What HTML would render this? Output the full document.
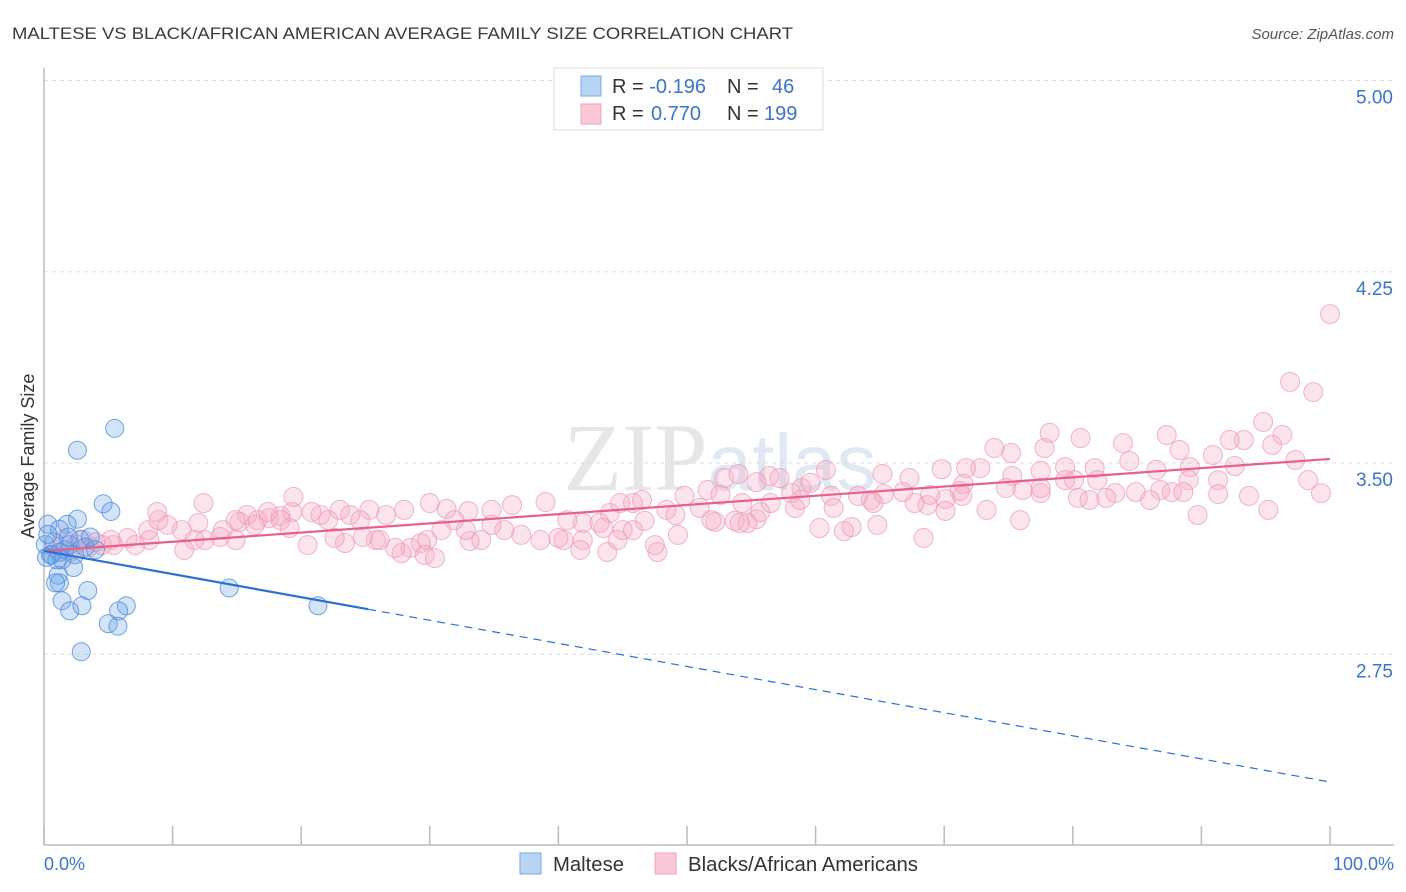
<!DOCTYPE html>
<html><head><meta charset="utf-8"><style>
body{margin:0;background:#fff;font-family:"Liberation Sans",sans-serif;}
#wrap{position:relative;width:1406px;height:892px;overflow:hidden;}
</style></head><body>
<div id="wrap">
<svg id="chart" width="1406" height="892" xmlns="http://www.w3.org/2000/svg">
<text x="12" y="39" font-size="17" fill="#3a3a3a" textLength="781" lengthAdjust="spacingAndGlyphs">MALTESE VS BLACK/AFRICAN AMERICAN AVERAGE FAMILY SIZE CORRELATION CHART</text>
<text x="1394" y="39" font-size="15" fill="#555" font-style="italic" text-anchor="end">Source: ZipAtlas.com</text>
<text x="720" y="490" font-size="96" fill="#e6e6e6" text-anchor="middle" font-family="Liberation Serif, serif">ZIP<tspan fill="#dfe8f3" font-family="Liberation Sans, sans-serif" font-size="80">atlas</tspan></text>
<g id="grid"></g>
<g id="axes"></g>
<g id="marks"></g>
<text transform="translate(34,456) rotate(-90)" font-size="18" fill="#333" text-anchor="middle">Average Family Size</text>
<text x="44" y="870" font-size="18" fill="#3b73d1">0.0%</text>
<text x="1394" y="870" font-size="18" fill="#3b73d1" text-anchor="end">100.0%</text>
<g>
<rect x="554" y="68" width="269" height="62" fill="#fff" stroke="#ddd"/>
<rect x="581" y="76" width="20" height="20" fill="#b8d4f5" stroke="#7aa8e6"/>
<rect x="581" y="104" width="20" height="20" fill="#fbc8d8" stroke="#f0a0b8"/>
<text x="612" y="93" font-size="20" fill="#333">R = <tspan fill="#3b73d1">-0.196</tspan><tspan x="727">N = </tspan><tspan fill="#3b73d1" x="772">46</tspan></text>
<text x="612" y="120" font-size="20" fill="#333">R = <tspan fill="#3b73d1" x="651">0.770</tspan><tspan x="727">N = </tspan><tspan fill="#3b73d1" x="764">199</tspan></text>
</g>
<g>
<rect x="520" y="853" width="21" height="21" fill="#b8d4f5" stroke="#7aa8e6"/>
<text x="553" y="871" font-size="20" fill="#333" textLength="71" lengthAdjust="spacingAndGlyphs">Maltese</text>
<rect x="655" y="853" width="21" height="21" fill="#fbc8d8" stroke="#f0a0b8"/>
<text x="688" y="871" font-size="20" fill="#333" textLength="230" lengthAdjust="spacingAndGlyphs">Blacks/African Americans</text>
</g>
</svg>
</div>
<script>
const yTicks=[5.00,4.25,3.50,2.75];
const yTickLabels=["5.00","4.25","3.50","2.75"];
const xTicks=[0,10,20,30,40,50,60,70,80,90,100];
const blueX=[5.5,2.6,4.6,5.2,2.6,1.8,0.3,1.2,0.1,0.6,2.0,2.4,1.4,2.3,1.1,1.2,0.9,3.4,1.4,2.0,2.95,6.4,5.8,5.0,5.75,2.9,14.4,21.3,0.8,1.6,3.2,4.0,0.5,1.2,2.8,3.6,0.3,1.9,0.2,1.0];
const blueY=[3.636,3.55,3.34,3.31,3.28,3.26,3.26,3.24,3.18,3.14,3.18,3.14,3.12,3.09,3.06,3.03,3.03,3.0,2.96,2.92,2.94,2.94,2.92,2.87,2.86,2.76,3.01,2.94,3.19,3.16,3.17,3.16,3.14,3.15,3.2,3.21,3.22,3.21,3.13,3.12];
const pinkX=[100,96.9,98.7,94.8,93.3,96.3,95.5,92.2,87.3,80.6,78.2,77.8,83.9,90.9,88.3,97.3,89.1,92.6,86.5,84.4,81.7,79.4,75.2,73.9,72.8,71.7,69.8,60.8,65.2,56.4,52.9,57.2,67.3,75.3,77.5,80.1,81.9,83.3,84.9,86.8,87.7,91.3,98.3,99.3,93.7,91.3,89.0,82.6,80.4,77.5,76.1,71.2,70.1,68.7,66.8,64.3,63.3,61.2,58.9,58.1,51.6,49.8,46.5,45.8,44.0,44.8,48.4,51.0,54.3,56.5,73.3,77.5,74.8,71.5,79.4,70.1,67.7,65.3,64.5,61.4,58.4,55.4,54.7,53.7,52.2,49.1,46.7,45.0,45.8,43.5,41.9,40.7,39.0,36.4,34.8,33.0,31.3,30.0,28.0,26.6,25.3,23.8,23.0,21.5,20.8,19.3,18.4,17.5,16.6,15.8,15.2,13.9,12.0,10.7,9.6,8.1,6.5,5.2,4.5,
95.2,89.7,75.9,68.4,64.8,62.8,62.2,60.3,55.7,54.1,54.0,51.9,49.3,47.7,43.8,40.4,40.0,38.6,37.1,35.8,34.8,34.0,33.1,31.9,30.9,29.8,29.3,28.5,27.8,26.1,25.8,24.8,23.4,22.6,20.5,19.1,18.4,16.4,14.9,13.7,12.5,10.9,8.9,8.2,7.1,5.4,19.4,12.4,8.8,11.7,14.9,17.4,22.1,24.6,29.6,30.4,27.3,32.8,43.2,41.9,41.7,44.6,47.5,52.6,55.4,58.8,59.6,68.9,71.4,81.3,86.0,88.6,1.5,2.5,3.5,1.0,3.0,2.0,4.0];
const pinkY=[4.084,3.818,3.778,3.661,3.590,3.610,3.571,3.590,3.610,3.598,3.618,3.559,3.578,3.531,3.551,3.512,3.484,3.488,3.473,3.508,3.480,3.484,3.539,3.559,3.480,3.480,3.476,3.473,3.457,3.449,3.441,3.441,3.441,3.449,3.469,3.433,3.433,3.382,3.386,3.394,3.386,3.433,3.433,3.382,3.371,3.378,3.433,3.363,3.363,3.382,3.394,3.390,3.359,3.335,3.386,3.355,3.371,3.371,3.402,3.382,3.394,3.371,3.355,3.343,3.304,3.343,3.316,3.324,3.343,3.343,3.316,3.402,3.402,3.418,3.433,3.312,3.343,3.378,3.343,3.324,3.324,3.280,3.265,3.273,3.269,3.296,3.273,3.237,3.237,3.245,3.265,3.276,3.347,3.335,3.316,3.312,3.320,3.343,3.316,3.296,3.316,3.296,3.316,3.296,3.308,3.308,3.292,3.284,3.276,3.296,3.269,3.237,3.265,3.237,3.257,3.237,3.206,3.198,3.178,
3.316,3.296,3.276,3.206,3.257,3.249,3.233,3.245,3.308,3.265,3.457,3.276,3.218,3.151,3.151,3.198,3.206,3.198,3.218,3.237,3.257,3.198,3.194,3.276,3.237,3.198,3.186,3.167,3.147,3.198,3.198,3.210,3.186,3.206,3.178,3.245,3.276,3.257,3.198,3.210,3.198,3.159,3.276,3.198,3.178,3.178,3.367,3.343,3.308,3.198,3.276,3.308,3.276,3.276,3.139,3.127,3.167,3.237,3.265,3.198,3.159,3.198,3.178,3.375,3.425,3.355,3.422,3.375,3.371,3.355,3.355,3.386,3.2,3.18,3.17,3.16,3.2,3.15,3.19];
const blueTrend=[3.155,2.249];
const blueSolidEnd=25.2;
const pinkTrend=[3.155,3.516];

const X0=44,X1=1330,YREF=463,PXPER=255;
function sx(p){return X0+(X1-X0)*p/100;}
function sy(v){return YREF-(v-3.5)*PXPER;}
const NS="http://www.w3.org/2000/svg";
function mk(tag,attrs,parent){const e=document.createElementNS(NS,tag);for(const k in attrs)e.setAttribute(k,attrs[k]);parent.appendChild(e);return e;}
const grid=document.getElementById('grid'),axes=document.getElementById('axes'),marks=document.getElementById('marks');
yTicks.forEach((t,i)=>{
  const l=mk('line',{x1:44,x2:1394,y1:sy(t),y2:sy(t),stroke:'#ddd','stroke-dasharray':'4,4'},grid);
  
  
  const tx=mk('text',{x:1393,y:sy(t)+23,'font-size':19,fill:'#3b73d1','text-anchor':'end'},axes);
  tx.textContent=yTickLabels[i];
  
  
});
let a=mk('line',{x1:44,x2:44,y1:68,y2:845,stroke:'#bbb','stroke-width':1.5},axes);


a=mk('line',{x1:44,x2:1394,y1:845,y2:845,stroke:'#bbb','stroke-width':1.5},axes);


xTicks.forEach(t=>{
  const l=mk('line',{x1:sx(t),x2:sx(t),y1:826,y2:845,stroke:'#bbb','stroke-width':1.5},axes);
  
  
});
pinkX.forEach((p,i)=>{
  const c=mk('circle',{cx:sx(p),cy:sy(pinkY[i]),r:9.5,fill:'rgba(246,170,195,0.32)',stroke:'rgba(236,150,178,0.7)','stroke-width':1},marks);
  
  
});
blueX.forEach((p,i)=>{
  const c=mk('circle',{cx:sx(p),cy:sy(blueY[i]),r:9,fill:'rgba(110,165,235,0.3)',stroke:'rgba(80,140,220,0.8)','stroke-width':1},marks);
  
  
});
function trendAt(tr,p){return tr[0]+(tr[1]-tr[0])*p/100;}
let t=mk('line',{x1:sx(0),y1:sy(pinkTrend[0]),x2:sx(100),y2:sy(pinkTrend[1]),stroke:'#e8608a','stroke-width':2.2},marks);


t=mk('line',{x1:sx(0),y1:sy(blueTrend[0]),x2:sx(blueSolidEnd),y2:sy(trendAt(blueTrend,blueSolidEnd)),stroke:'#2a6fd6','stroke-width':2.2},marks);


t=mk('line',{x1:sx(blueSolidEnd),y1:sy(trendAt(blueTrend,blueSolidEnd)),x2:sx(100),y2:sy(blueTrend[1]),stroke:'#2a6fd6','stroke-width':1.2,'stroke-dasharray':'8,6'},marks);


</script>
</body></html>
